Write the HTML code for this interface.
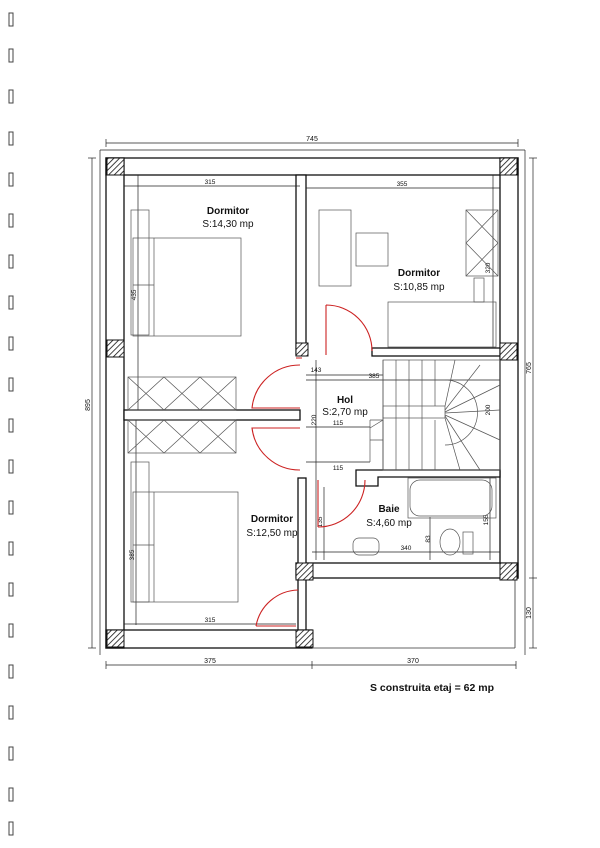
<!DOCTYPE html>
<html><head><meta charset="utf-8"><style>
html,body{margin:0;padding:0;background:#fff}
svg{display:block}
text{font-family:"Liberation Sans",sans-serif;fill:#111}
.w{fill:#fff;stroke:#111;stroke-width:1.3}
.t{stroke:#333;stroke-width:.8;fill:none}
.f{stroke:#555;stroke-width:.7;fill:none}
.r{stroke:#c22;stroke-width:1.1;fill:none}
.d{stroke:#222;stroke-width:.7;fill:none}
</style></head><body>
<svg width="600" height="848" viewBox="0 0 600 848" xmlns="http://www.w3.org/2000/svg">
<defs>
<pattern id="h" width="4" height="4" patternUnits="userSpaceOnUse" patternTransform="rotate(45)">
<rect width="4" height="4" fill="#fff"/><line x1="0" y1="0" x2="0" y2="4" stroke="#111" stroke-width="1.6"/></pattern>
</defs>
<g fill="#fff" stroke="#444" stroke-width="1">
<rect x="9" y="13" width="4" height="13"/><rect x="9" y="49" width="4" height="13"/><rect x="9" y="90" width="4" height="13"/>
<rect x="9" y="132" width="4" height="13"/><rect x="9" y="173" width="4" height="13"/><rect x="9" y="214" width="4" height="13"/>
<rect x="9" y="255" width="4" height="13"/><rect x="9" y="296" width="4" height="13"/><rect x="9" y="337" width="4" height="13"/>
<rect x="9" y="378" width="4" height="13"/><rect x="9" y="419" width="4" height="13"/><rect x="9" y="460" width="4" height="13"/>
<rect x="9" y="501" width="4" height="13"/><rect x="9" y="542" width="4" height="13"/><rect x="9" y="583" width="4" height="13"/>
<rect x="9" y="624" width="4" height="13"/><rect x="9" y="665" width="4" height="13"/><rect x="9" y="706" width="4" height="13"/>
<rect x="9" y="747" width="4" height="13"/><rect x="9" y="788" width="4" height="13"/><rect x="9" y="822" width="4" height="13"/>
</g>
<g class="d">
<line x1="106" y1="143" x2="518" y2="143"/><line x1="106" y1="139" x2="106" y2="147"/><line x1="518" y1="139" x2="518" y2="147"/>
<line x1="106" y1="665" x2="516" y2="665"/><line x1="106" y1="661" x2="106" y2="669"/><line x1="312" y1="661" x2="312" y2="669"/><line x1="516" y1="661" x2="516" y2="669"/>
<line x1="92" y1="158" x2="92" y2="648"/><line x1="88" y1="158" x2="96" y2="158"/><line x1="88" y1="648" x2="96" y2="648"/>
<line x1="533" y1="158" x2="533" y2="648"/><line x1="529" y1="158" x2="537" y2="158"/><line x1="529" y1="578" x2="537" y2="578"/><line x1="529" y1="648" x2="537" y2="648"/>
<line x1="100" y1="150" x2="100" y2="655"/><line x1="100" y1="150" x2="525" y2="150"/><line x1="525" y1="150" x2="525" y2="655"/>
</g>
<text x="312" y="141" font-size="7" text-anchor="middle">745</text>
<text x="210" y="663" font-size="7" text-anchor="middle">375</text>
<text x="413" y="663" font-size="7" text-anchor="middle">370</text>
<text transform="translate(90,405) rotate(-90)" font-size="7" text-anchor="middle">895</text>
<text transform="translate(531,368) rotate(-90)" font-size="7" text-anchor="middle">765</text>
<text transform="translate(531,613) rotate(-90)" font-size="7" text-anchor="middle">130</text>
<rect class="w" x="106" y="158" width="412" height="17"/>
<rect class="w" x="106" y="158" width="18" height="490"/>
<rect class="w" x="106" y="630" width="206" height="18"/>
<rect class="w" x="500" y="158" width="18" height="420"/>
<rect class="w" x="296" y="563" width="222" height="15"/>
<rect class="w" x="296" y="175" width="10" height="180"/>
<rect class="w" x="124" y="410" width="176" height="10"/>
<rect class="w" x="372" y="348" width="128" height="8"/>
<rect class="w" x="298" y="478" width="8" height="152"/>
<path class="w" d="M356 470 H500 V477 H378 V486 H356 Z"/>
<line class="t" x1="515" y1="578" x2="515" y2="648"/><line class="t" x1="312" y1="648" x2="515" y2="648"/>
<g fill="url(#h)" stroke="#111" stroke-width="1">
<rect x="107" y="158" width="17" height="17"/><rect x="500" y="158" width="17" height="17"/>
<rect x="107" y="340" width="17" height="17"/><rect x="500" y="343" width="17" height="17"/>
<rect x="107" y="630" width="17" height="17"/><rect x="296" y="630" width="17" height="17"/>
<rect x="296" y="563" width="17" height="17"/><rect x="500" y="563" width="17" height="17"/>
<rect x="296" y="343" width="12" height="13"/>
</g>
<g class="d">
<line x1="124" y1="186" x2="300" y2="186"/><line x1="306" y1="188" x2="500" y2="188"/>
<line x1="138" y1="175" x2="138" y2="410"/>
<line x1="306" y1="375" x2="383" y2="375"/><line x1="306" y1="380" x2="500" y2="380"/>
<line x1="306" y1="427" x2="370" y2="427"/><line x1="306" y1="462" x2="370" y2="462"/>
<line x1="316" y1="360" x2="316" y2="560"/>
<line x1="324" y1="487" x2="324" y2="560"/>
<line x1="312" y1="552" x2="500" y2="552"/><line x1="430" y1="517" x2="430" y2="560"/><line x1="490" y1="478" x2="490" y2="560"/>
<line x1="124" y1="624" x2="296" y2="624"/><line x1="136" y1="420" x2="136" y2="625"/>
<line x1="493" y1="175" x2="493" y2="348"/>
</g>
<g font-size="6.5" text-anchor="middle">
<text x="210" y="184">315</text><text x="402" y="186">355</text><text x="316" y="372">143</text><text x="374" y="378">385</text>
<text x="338" y="425">115</text><text x="338" y="470">115</text><text x="210" y="622">315</text><text x="406" y="550">340</text>
<text transform="translate(136,295) rotate(-90)">435</text><text transform="translate(490,268) rotate(-90)">320</text>
<text transform="translate(316,420) rotate(-90)">220</text><text transform="translate(490,410) rotate(-90)">200</text>
<text transform="translate(322,522) rotate(-90)">135</text><text transform="translate(430,539) rotate(-90)">83</text>
<text transform="translate(488,520) rotate(-90)">155</text><text transform="translate(134,555) rotate(-90)">385</text>
</g>
<g class="f">
<rect x="131" y="210" width="18" height="125"/><rect x="133" y="238" width="108" height="98"/><line x1="154" y1="238" x2="154" y2="336"/><line x1="133" y1="285" x2="154" y2="285"/>
<rect x="128" y="377" width="108" height="33"/><path d="M128 377 L164 410 M164 377 L128 410 M164 377 L200 410 M200 377 L164 410 M200 377 L236 410 M236 377 L200 410"/>
<rect x="128" y="420" width="108" height="33"/><path d="M128 420 L164 453 M164 420 L128 453 M164 420 L200 453 M200 420 L164 453 M200 420 L236 453 M236 420 L200 453"/>
<rect x="131" y="462" width="18" height="140"/><rect x="133" y="492" width="105" height="110"/><line x1="154" y1="492" x2="154" y2="602"/><line x1="133" y1="545" x2="154" y2="545"/>
<rect x="319" y="210" width="32" height="76"/><rect x="356" y="233" width="32" height="33"/>
<rect x="466" y="210" width="32" height="66"/><path d="M466 210 L498 243 M498 210 L466 243 M466 243 L498 276 M498 243 L466 276"/>
<rect x="388" y="302" width="108" height="45"/><rect x="474" y="278" width="10" height="24"/>
<rect x="410" y="480" width="82" height="36" rx="10"/><rect x="408" y="478" width="88" height="40"/>
<ellipse cx="450" cy="542" rx="10" ry="13"/><rect x="463" y="532" width="10" height="22"/>
<rect x="353" y="538" width="26" height="17" rx="6"/>
</g>
<g class="f">
<rect x="383" y="360" width="117" height="110"/>
<path d="M383 360 V470 M396 360 V470 M409 360 V470 M422 360 V470 M435 360 V406 M435 420 V470"/>
<path d="M370 420 H383 V470"/><path d="M370 420 V462"/>
<rect x="383" y="406" width="62" height="12"/>
<path d="M445 380 A30 30 0 0 1 445 445"/>
<path d="M445 406 L455 360 M445 410 L480 365 M445 412 L500 385 M445 413 L500 410 M445 415 L500 440 M445 416 L480 470 M445 418 L460 470 M370 428 L383 420 M370 440 L383 440"/>
</g>
<g class="r">
<path d="M326 305 V355 M326 305 A46 46 0 0 1 372 351"/>
<path d="M296 358 H302 M300 365 A48 48 0 0 0 252 408 H300"/>
<path d="M300 428 H252 A48 48 0 0 0 300 470"/>
<path d="M318 480 V527 M318 527 A47 47 0 0 0 365 480"/>
<path d="M256 626 A44 44 0 0 1 298 590 M256 626 H296"/>
</g>
<g text-anchor="middle">
<text x="228" y="214" font-size="10" font-weight="bold">Dormitor</text><text x="228" y="227" font-size="10">S:14,30 mp</text>
<text x="419" y="276" font-size="10" font-weight="bold">Dormitor</text><text x="419" y="290" font-size="10">S:10,85 mp</text>
<text x="345" y="403" font-size="10" font-weight="bold">Hol</text><text x="345" y="415" font-size="10">S:2,70 mp</text>
<text x="389" y="512" font-size="10" font-weight="bold">Baie</text><text x="389" y="526" font-size="10">S:4,60 mp</text>
<text x="272" y="522" font-size="10" font-weight="bold">Dormitor</text><text x="272" y="536" font-size="10">S:12,50 mp</text>
</g>
<text x="370" y="691" font-size="10.5" font-weight="bold">S construita etaj = 62 mp</text>
</svg>
</body></html>
